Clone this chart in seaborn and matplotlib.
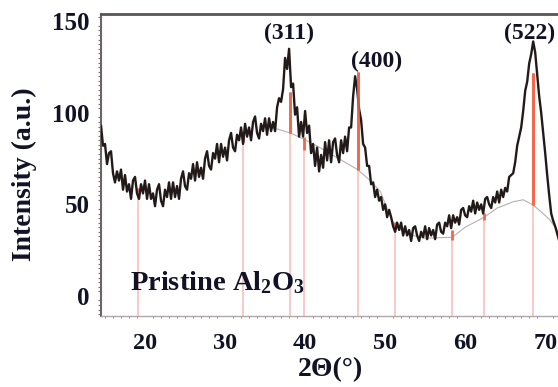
import numpy as np
import pandas as pd
import matplotlib
matplotlib.use("Agg")
import matplotlib.pyplot as plt
import seaborn as sns

# ---- data ----
scan_start = 14.5      # 2theta of first point (deg)
scan_step = 0.25       # step of the scan (deg)
intensity = [
    93, 82, 83, 72, 78, 79, 67, 62, 68, 63, 69, 58,
    66, 57, 61, 53, 63, 65, 56, 53, 61, 56, 63, 53,
    61, 53, 56, 49, 58, 61, 52, 49, 58, 54, 62, 53,
    62, 54, 60, 53, 64, 68, 60, 58, 67, 64, 72, 63,
    73, 65, 70, 64, 75, 79, 71, 69, 78, 75, 83, 73,
    83, 76, 81, 74, 85, 89, 81, 79, 88, 85, 92, 83,
    94, 87, 92, 85, 95, 98, 89, 86, 94, 90, 97, 88,
    97, 90, 95, 90, 103, 108, 106, 113, 130, 124, 135, 114,
    116, 99, 103, 87, 95, 87, 101, 89, 93, 78, 83, 71,
    81, 68, 77, 70, 84, 74, 85, 73, 84, 86, 77, 73,
    85, 78, 87, 79, 92, 92, 109, 120, 113, 102, 96, 83,
    81, 71, 71, 61, 62, 54, 58, 52, 54, 47, 50, 43,
    47, 43, 38, 35, 40, 36, 40, 33, 38, 33, 36, 30,
    37, 38, 33, 30, 35, 32, 38, 31, 37, 33, 36, 31,
    39, 40, 35, 34, 40, 38, 44, 37, 44, 40, 43, 39,
    47, 48, 44, 43, 49, 46, 52, 45, 51, 47, 50, 45,
    53, 54, 50, 48, 54, 51, 57, 51, 58, 54, 59, 57,
    65, 66, 67, 73, 82, 87, 92, 101, 112, 117, 127, 132,
    139, 133, 121, 109, 100, 89, 78, 66, 55, 45, 41, 38,
    34, 30, 29,
]

# fitted amorphous background (thin grey curve)
bg_theta = [35.6, 38.1, 39.9, 41.9, 44.0, 46.6, 48.0, 49.4, 50.5, 51.25, 53.0,
            55.0, 58.4, 60.0, 62.4, 64.0, 66.0, 67.25, 68.5, 69.6, 70.6, 71.6, 72.0]
bg_intensity = [92.3, 89.1, 85.5, 80.9, 75.5, 68.9, 63.5, 57.0, 45.0, 38.0, 33.5,
                31.5, 32.0, 37.5, 43.0, 48.0, 51.4, 52.5, 49.7, 45.5, 41.5, 35.0, 32.0]

# reference stick pattern: position, lower (background) and upper end of red part
ref_theta = [19.1, 32.25, 38.1, 39.9, 46.6, 51.25, 58.4, 62.4, 68.5]
ref_low = [57.0, 84.2, 89.1, 79.8, 68.9, 37.2, 30.6, 41.5, 49.7]
ref_high = [59.0, 89.6, 111.5, 86.9, 122.4, 40.4, 36.1, 45.4, 121.9]

peak_labels = ["(311)", "(400)", "(522)"]
label_theta = [38.0, 48.9, 68.1]
label_y = [143.5, 128.0, 143.5]

x_ticks = [20, 30, 40, 50, 60, 70]
y_ticks = [0, 50, 100, 150]

# ---- figure ----
sns.set_theme(style="white")
plt.rcParams["font.family"] = ["Liberation Serif", "DejaVu Serif"]
plt.rcParams["font.weight"] = "bold"
plt.rcParams["mathtext.fontset"] = "custom"
plt.rcParams["mathtext.rm"] = "Liberation Serif:bold"
plt.rcParams["mathtext.it"] = "Liberation Serif:bold"
plt.rcParams["mathtext.bf"] = "Liberation Serif:bold"

txt_col = "#121226"

theta = scan_start + scan_step * np.arange(len(intensity))
df = pd.DataFrame({"two_theta": theta, "intensity": intensity})

fig = plt.figure(figsize=(5.58, 3.87), dpi=100)
ax = fig.add_axes([101 / 558, 1 - 316 / 387, 1 - 101 / 558, (316 - 14) / 387])

ymin, ymax = -11, 154
ax.set_xlim(14.5, 71.6)
ax.set_ylim(ymin, ymax)

# pale stick lines and red parts
ax.vlines(ref_theta, ymin, ref_low, colors="#f9c6c2", linewidth=1.3, zorder=1)
ax.vlines(ref_theta, ref_low, ref_high, colors="#f2674c", linewidth=2.0, zorder=3)

# background curve
ax.plot(bg_theta, bg_intensity, color="#b8b0ae", linewidth=0.8, zorder=2)

# XRD trace
sns.lineplot(data=df, x="two_theta", y="intensity", ax=ax, color="#221a18",
             linewidth=1.7, zorder=4)
big = [i for i, h in enumerate(ref_high) if h > 100]
ax.vlines([ref_theta[i] for i in big], [ref_low[i] for i in big],
          [ref_high[i] for i in big], colors="#f2674c", linewidth=2.0,
          alpha=0.85, zorder=5)

for lab, xx, yy in zip(peak_labels, label_theta, label_y):
    ax.text(xx, yy, lab, ha="center", va="center", fontsize=17,
            fontweight="bold", color=txt_col, zorder=6)

ax.text(18.1, 3.0, r"Pristine Al$_2$O$_3$", ha="left", va="baseline",
        fontsize=20.5, fontweight="bold", color=txt_col, zorder=6)

# axes styling
ax.set_xticks(x_ticks)
ax.set_yticks(y_ticks)
ax.set_xticks(np.arange(15, 72, 1), minor=True)
ax.set_yticks(np.arange(-10, 155, 2.5), minor=True)
ax.tick_params(axis="y", which="major", direction="out", length=4, width=1,
               color="#555555", pad=4, labelsize=18, labelcolor=txt_col)
ax.tick_params(axis="y", which="minor", direction="out", length=2.5, width=0.8,
               color="#777777", left=True)
ax.tick_params(axis="x", which="major", direction="out", length=3, width=1,
               color="#888888", pad=9, labelsize=17.5, labelcolor=txt_col)
ax.tick_params(axis="x", which="minor", direction="out", length=1.5, width=0.8,
               color="#999999", bottom=True)
for lbl in ax.get_xticklabels() + ax.get_yticklabels():
    lbl.set_fontweight("bold")

ax.spines["right"].set_visible(False)
ax.spines["top"].set_color("#5a5452")
ax.spines["top"].set_linewidth(2.0)
ax.spines["left"].set_color("#6a6462")
ax.spines["left"].set_linewidth(1.5)
ax.spines["bottom"].set_color("#b0a8a8")
ax.spines["bottom"].set_linewidth(1.0)

ax.set_xlabel("2Θ(°)", fontsize=20, fontweight="bold", color=txt_col)
ax.set_ylabel("Intensity (a.u.)", fontsize=20, fontweight="bold", color=txt_col)
ax.xaxis.set_label_coords(0.503, -0.135)
ax.yaxis.set_label_coords(-0.14, 0.47)

fig.savefig("out.png", dpi=100, facecolor="white")
